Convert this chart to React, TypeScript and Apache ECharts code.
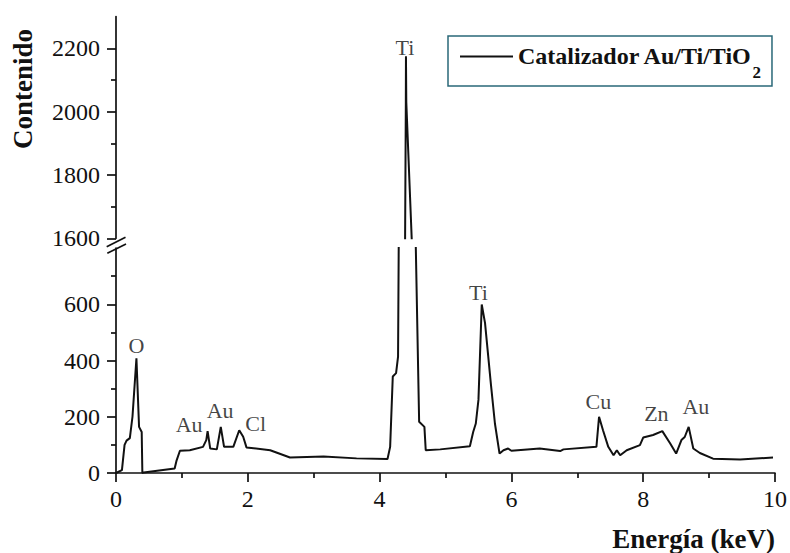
import React, { useEffect, useRef } from "react";
import * as echarts from "echarts";

const SERIES_NAME = "Catalizador Au/Ti/TiO2";

// Spectrum: energy (keV) and counts
const energy = [
  0.0, 0.09, 0.13, 0.16, 0.21, 0.25, 0.31, 0.35, 0.39, 0.4, 0.42, 0.89, 0.92, 0.97,
  1.12, 1.32, 1.37, 1.39, 1.43, 1.53, 1.59, 1.64, 1.78, 1.87, 1.93, 1.98, 2.34,
  2.64, 3.15, 3.65, 4.12, 4.16, 4.2, 4.25, 4.28, 4.29, 4.387, 4.398, 4.4, 4.405,
  4.487, 4.55, 4.6, 4.68, 4.7, 4.92, 5.37, 5.42, 5.46, 5.5, 5.55, 5.6, 5.69, 5.75,
  5.82, 5.88, 5.95, 6.0, 6.43, 6.74, 6.79, 7.29, 7.33, 7.39, 7.47, 7.55, 7.6, 7.65,
  7.75, 7.95, 8.0, 8.15, 8.29, 8.41, 8.5, 8.58, 8.63, 8.69, 8.76, 8.86, 9.06, 9.47,
  9.97,
];
const counts = [
  0, 10, 100, 115, 124, 200, 408, 164, 146, 0, 2, 16, 45, 79,
  81, 93, 117, 149, 87, 84, 164, 93, 93, 152, 129, 91, 81,
  55, 59, 52, 50, 93, 343, 355, 414, 800, 1600, 2030, 2175, 2030,
  1600, 795, 182, 164, 81, 84, 95, 146, 176, 260, 599, 533, 313, 176,
  69, 81, 87, 79, 87, 78, 84, 93, 200, 152, 93, 63, 81, 63,
  81, 99, 126, 135, 149, 105, 69, 117, 128, 164, 87, 71, 51, 48,
  55,
];

// Peak annotations (text, energy, counts at which the text sits)
const peakNames = ["O", "Au", "Au", "Cl", "Ti", "Cu", "Zn", "Au"];
const peakEnergy = [0.31, 1.11, 1.58, 2.12, 5.5, 7.32, 8.2, 8.8];
const peakCounts = [454, 173, 222, 175, 641, 253, 212, 235];
const topPeakNames = ["Ti"];
const topPeakEnergy = [4.385];
const topPeakCounts = [2201];

const lowerMajor = [0, 200, 400, 600];
const lowerMinor = [100, 300, 500, 700];
const upperMajor = [1600, 1800, 2000, 2200];
const upperMinor = [1700, 1900, 2100];

const FONT = "Liberation Serif";
const INK = "#111111";

export default function App() {
  const ref = useRef<HTMLDivElement>(null);

  useEffect(() => {
    if (!ref.current) return;
    const chart = echarts.init(ref.current, undefined, { renderer: "svg" });
    const data = energy.map((e, i) => [e, counts[i]]);
    const lowerLabels = peakNames.map((n, i) => ({ name: n, value: [peakEnergy[i], peakCounts[i]] }));
    const upperLabels = topPeakNames.map((n, i) => ({ name: n, value: [topPeakEnergy[i], topPeakCounts[i]] }));

    const axisLine = { show: true, lineStyle: { color: INK, width: 1.7 } };
    const tickLabel = {
      color: INK,
      fontSize: 24,
      fontFamily: FONT,
      formatter: (v: number) => String(v),
    };

    const lineSeries = {
      type: "line" as const,
      name: SERIES_NAME,
      data,
      symbol: "none",
      showSymbol: false,
      clip: true,
      lineStyle: { color: INK, width: 2 },
      itemStyle: { color: INK },
      silent: true,
    };
    const labelSeries = {
      type: "scatter" as const,
      symbolSize: 0,
      silent: true,
      label: {
        show: true,
        position: "inside" as const,
        formatter: "{b}",
        color: INK,
        fontSize: 22,
        fontFamily: FONT,
      },
    };

    chart.setOption({
      animation: false,
      backgroundColor: "#ffffff",
      textStyle: { fontFamily: FONT },
      grid: [
        { left: 116, right: 15, top: 248, height: 225 },
        { left: 116, right: 15, top: 16.6, height: 221.7 },
      ],
      xAxis: [
        {
          type: "value",
          gridIndex: 0,
          min: 0,
          max: 10,
          interval: 2,
          axisLine,
          axisTick: { show: true, length: 9, lineStyle: { color: INK, width: 1.7 } },
          minorTick: { show: true, splitNumber: 2, length: 5, lineStyle: { color: INK, width: 1.7 } },
          axisLabel: { ...tickLabel, margin: 14 },
          splitLine: { show: false },
        },
        { type: "value", gridIndex: 1, min: 0, max: 10, interval: 2, show: false },
      ],
      yAxis: [
        {
          type: "value",
          gridIndex: 0,
          position: "left",
          min: 0,
          max: 800,
          interval: 200,
          axisLine,
          axisTick: { show: true, length: 9, customValues: lowerMajor, lineStyle: { color: INK, width: 1.7 } },
          axisLabel: { ...tickLabel, margin: 16, customValues: lowerMajor },
          splitLine: { show: false },
        },
        {
          type: "value",
          gridIndex: 0,
          position: "left",
          offset: 0,
          min: 0,
          max: 800,
          interval: 100,
          axisLine: { show: false },
          axisTick: { show: true, length: 5, customValues: lowerMinor, lineStyle: { color: INK, width: 1.7 } },
          axisLabel: { show: false },
          splitLine: { show: false },
        },
        {
          type: "value",
          gridIndex: 1,
          position: "left",
          min: 1600,
          max: 2300,
          interval: 200,
          axisLine,
          axisTick: { show: true, length: 9, customValues: upperMajor, lineStyle: { color: INK, width: 1.7 } },
          axisLabel: { ...tickLabel, margin: 16, customValues: upperMajor },
          splitLine: { show: false },
        },
        {
          type: "value",
          gridIndex: 1,
          position: "left",
          offset: 0,
          min: 1600,
          max: 2300,
          interval: 100,
          axisLine: { show: false },
          axisTick: { show: true, length: 5, customValues: upperMinor, lineStyle: { color: INK, width: 1.7 } },
          axisLabel: { show: false },
          splitLine: { show: false },
        },
      ],
      legend: {
        data: [SERIES_NAME],
        left: 448,
        top: 36,
        padding: [7.5, 11, 5.5, 12],
        borderColor: "#2a6878",
        borderWidth: 1.5,
        icon: "rect",
        itemWidth: 53,
        itemHeight: 2,
        selectedMode: false,
        formatter: () => "{a|Catalizador Au/Ti/TiO}{b|2}",
        textStyle: {
          color: INK,
          fontFamily: FONT,
          rich: {
            a: {
              fontSize: 24,
              fontWeight: "bold",
              fontFamily: FONT,
              color: INK,
              lineHeight: 26,
              verticalAlign: "top",
            },
            b: {
              fontSize: 17,
              fontWeight: "bold",
              fontFamily: FONT,
              color: INK,
              lineHeight: 8,
              padding: [20, 0, 0, 0],
              verticalAlign: "top",
            },
          },
        },
      },
      series: [
        { ...lineSeries, xAxisIndex: 0, yAxisIndex: 0 },
        { ...lineSeries, xAxisIndex: 1, yAxisIndex: 2 },
        { ...labelSeries, xAxisIndex: 0, yAxisIndex: 0, data: lowerLabels },
        { ...labelSeries, xAxisIndex: 1, yAxisIndex: 2, data: upperLabels },
      ],
      graphic: [
        {
          type: "text",
          x: 23,
          y: 89,
          rotation: Math.PI / 2,
          style: {
            text: "Contenido",
            font: `bold 27px "${FONT}"`,
            fill: INK,
            textAlign: "center",
            textVerticalAlign: "middle",
          },
        },
        {
          type: "text",
          x: 775,
          y: 539,
          style: {
            text: "Energía (keV)",
            font: `bold 27px "${FONT}"`,
            fill: INK,
            textAlign: "right",
            textVerticalAlign: "middle",
          },
        },
        {
          type: "line",
          shape: { x1: 106.7, y1: 246.7, x2: 125.5, y2: 237.3 },
          style: { stroke: INK, lineWidth: 1.7 },
        },
        {
          type: "line",
          shape: { x1: 107.3, y1: 253.3, x2: 126, y2: 244 },
          style: { stroke: INK, lineWidth: 1.7 },
        },
      ],
    });
    return () => chart.dispose();
  }, []);

  return (
    <div
      ref={ref}
      style={{ position: "fixed", left: 0, top: 0, width: 790, height: 553, background: "#fff" }}
    />
  );
}
